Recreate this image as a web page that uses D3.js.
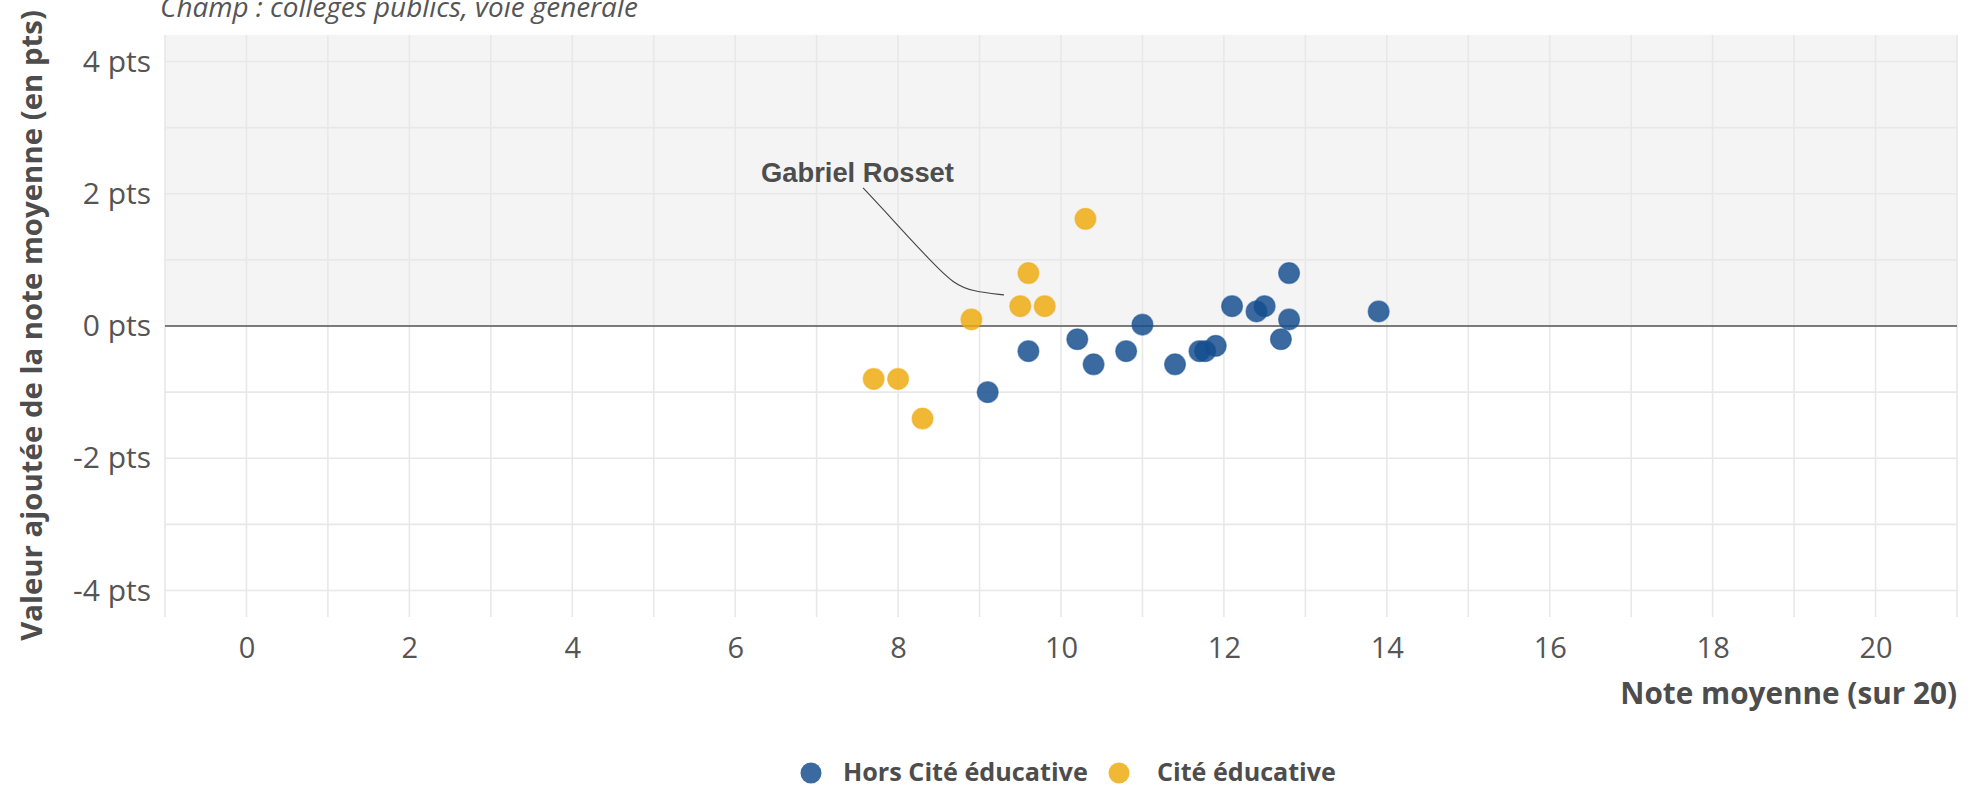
<!DOCTYPE html>
<html><head><meta charset="utf-8">
<script src="https://cdn.jsdelivr.net/npm/d3@7"></script>
<style>
html,body{margin:0;padding:0;background:#fff;}
svg{display:block;}
</style></head>
<body>
<svg id="chart" width="1972" height="787"></svg>
<script>
// ---- data ----
const horsX = [9.1, 9.6, 10.2, 10.4, 10.8, 11.0, 11.4, 11.7, 11.77, 11.9, 12.1, 12.4, 12.5, 12.7, 12.8, 12.8, 13.9];
const horsY = [-1.0, -0.38, -0.2, -0.58, -0.38, 0.02, -0.58, -0.38, -0.38, -0.3, 0.3, 0.22, 0.3, -0.2, 0.8, 0.1, 0.22];
const citeX = [7.7, 8.0, 8.3, 8.9, 9.5, 9.6, 9.8, 10.3];
const citeY = [-0.8, -0.8, -1.4, 0.1, 0.3, 0.8, 0.3, 1.62];
const xTicks = [0, 2, 4, 6, 8, 10, 12, 14, 16, 18, 20];
const yTicks = [-4, -2, 0, 2, 4];
const yTickLabels = ["-4 pts", "-2 pts", "0 pts", "2 pts", "4 pts"];
const seriesNames = ["Hors Cité éducative", "Cité éducative"];
const annoLabel = "Gabriel Rosset";
const annoPath = [[7.57, 2.09], [7.85, 1.72], [8.1, 1.38], [8.42, 0.96], [8.68, 0.64], [8.92, 0.52], [9.3, 0.47]];
const subtitle = "Champ : collèges publics, voie générale";
const yTitle = "Valeur ajoutée de la note moyenne (en pts)";
const xTitle = "Note moyenne (sur 20)";

// ---- layout ----
const svg = d3.select("#chart");
const L = 165, R = 1957, T = 35, B = 617;
const x = d3.scaleLinear().domain([-1, 21]).range([L, R]);
const y = d3.scaleLinear().domain([-4.4, 4.4]).range([B, T]);
const colors = ["#144d8e", "#edaa0e"];
const textCol = "#4d4d4d";
const sans = "'Open Sans', 'Noto Sans', sans-serif";

function fit(sel, w) {
  const n = sel.node();
  const len = n.getComputedTextLength();
  const fs = parseFloat(sel.attr("font-size"));
  sel.attr("font-size", fs * w / len);
}

// panel background: grey above 0
svg.append("rect").attr("x", L).attr("y", T).attr("width", R - L).attr("height", y(0) - T).attr("fill", "#f4f4f4");

// grid
const grid = svg.append("g").attr("stroke", "#e8e8e8").attr("stroke-width", 1.6);
grid.selectAll("line.v").data(d3.range(-1, 21.5, 1)).join("line")
  .attr("x1", d => x(d)).attr("x2", d => x(d)).attr("y1", T).attr("y2", B);
grid.selectAll("line.h").data(d3.range(-4, 4.5, 1)).join("line")
  .attr("x1", L).attr("x2", R).attr("y1", d => y(d)).attr("y2", d => y(d));

// zero line
svg.append("line").attr("x1", L).attr("x2", R).attr("y1", y(0)).attr("y2", y(0))
  .attr("stroke", "#555").attr("stroke-width", 1.6);

// axes (labels only)
const xAxis = d3.axisBottom(x).tickValues(xTicks).tickSize(0).tickPadding(20);
const gx = svg.append("g").attr("transform", `translate(0,${B})`).call(xAxis);
gx.select(".domain").remove();
gx.selectAll("text").attr("font-family", sans).attr("font-size", 29).attr("fill", "#555");

const yAxis = d3.axisLeft(y).tickValues(yTicks).tickFormat((d, i) => yTickLabels[i]).tickSize(0).tickPadding(14);
const gy = svg.append("g").attr("transform", `translate(${L},0)`).call(yAxis);
gy.select(".domain").remove();
gy.selectAll("text").attr("font-family", sans).attr("font-size", 30).attr("fill", "#555");

// annotation leader
const line = d3.line().x(d => x(d[0])).y(d => y(d[1])).curve(d3.curveBasis);
svg.append("path").attr("d", line(annoPath)).attr("fill", "none").attr("stroke", "#444").attr("stroke-width", 1.1);
const at = svg.append("text").attr("x", 761).attr("y", 182)
  .attr("font-family", "'Liberation Sans', Arial, sans-serif").attr("font-weight", "bold")
  .attr("font-size", 24).attr("fill", textCol).text(annoLabel);
fit(at, 193);

// points
const hors = horsX.map((v, i) => ({x: v, y: horsY[i]}));
const cite = citeX.map((v, i) => ({x: v, y: citeY[i]}));
[hors, cite].forEach((data, k) => {
  svg.append("g").selectAll("circle").data(data).join("circle")
    .attr("cx", d => x(d.x)).attr("cy", d => y(d.y)).attr("r", 10.5)
    .attr("fill", colors[k]).attr("fill-opacity", 0.84)
    .attr("stroke", colors[k]).attr("stroke-opacity", 0.5).attr("stroke-width", 1.2);
});

// subtitle
const st = svg.append("text").attr("x", 160).attr("y", 17).attr("font-family", sans)
  .attr("font-style", "italic").attr("font-size", 20).attr("fill", "#555").text(subtitle);
fit(st, 478);

// axis titles
const yt = svg.append("text").attr("transform", `translate(42,${(10 + 641) / 2}) rotate(-90)`)
  .attr("text-anchor", "middle").attr("font-family", sans).attr("font-weight", "bold")
  .attr("font-size", 26).attr("fill", textCol).text(yTitle);
fit(yt, 631);
const xt = svg.append("text").attr("x", R).attr("y", 704).attr("text-anchor", "end")
  .attr("font-family", sans).attr("font-weight", "bold").attr("font-size", 26).attr("fill", textCol).text(xTitle);
fit(xt, 337);

// legend
const lg = svg.append("g");
const lc = [811, 1119], lt = [843, 1157], lw = [245, 179];
seriesNames.forEach((name, k) => {
  lg.append("circle").attr("cx", lc[k]).attr("cy", 773).attr("r", 10.5)
    .attr("fill", colors[k]).attr("fill-opacity", 0.84);
  const t = lg.append("text").attr("x", lt[k]).attr("y", 781).attr("font-family", sans)
    .attr("font-weight", "bold").attr("font-size", 22).attr("fill", textCol).text(name);
  fit(t, lw[k]);
});
</script>
</body></html>
